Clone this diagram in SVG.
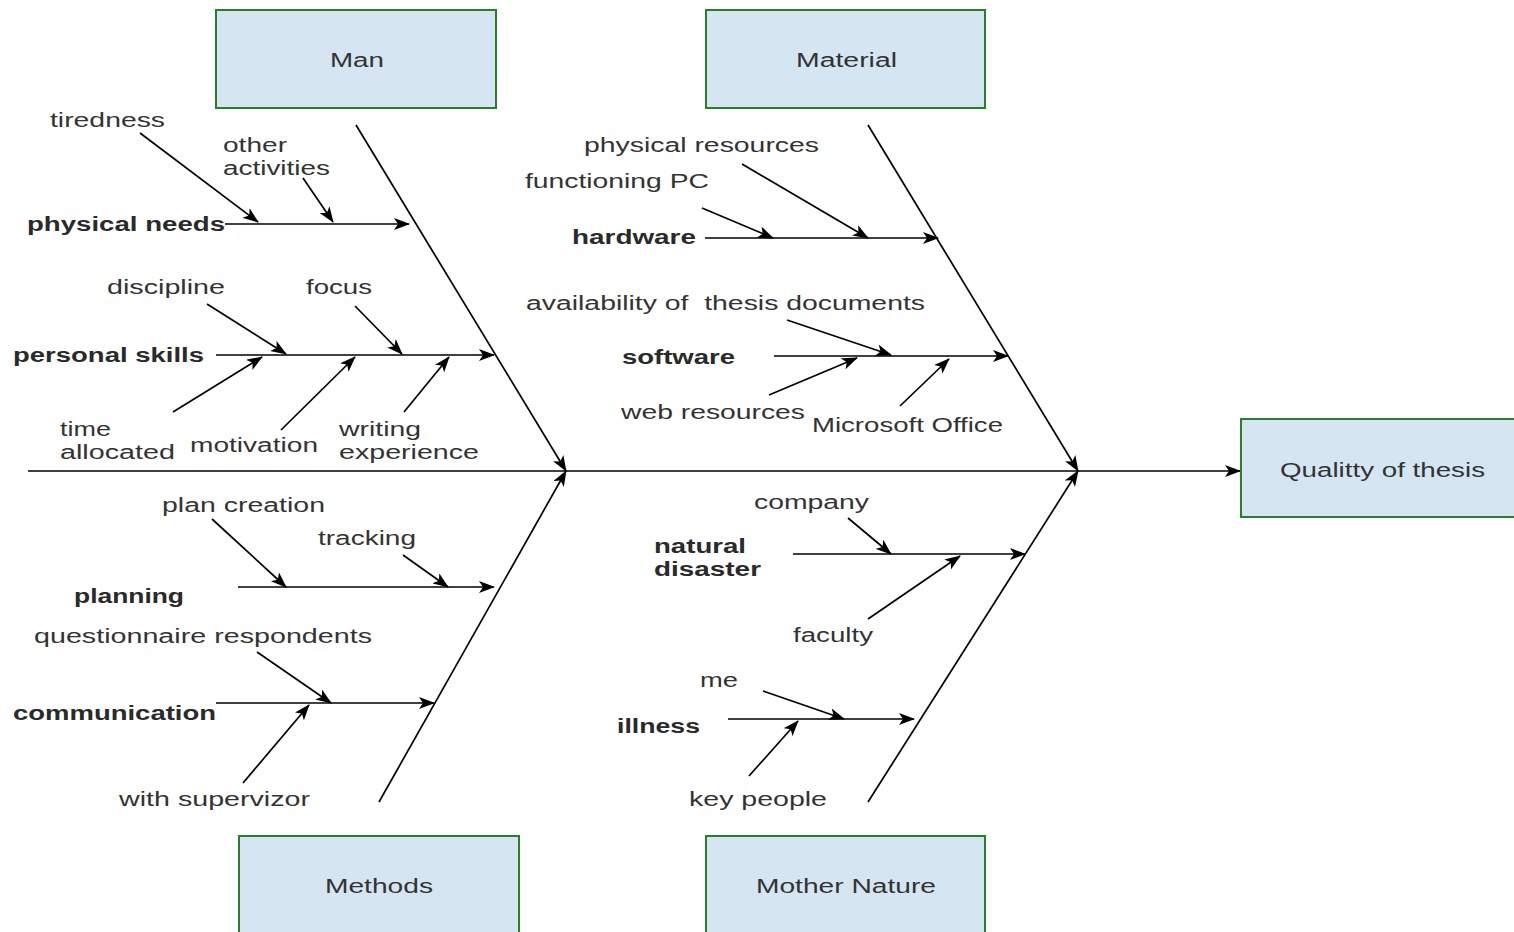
<svg xmlns="http://www.w3.org/2000/svg" width="1514" height="932" viewBox="0 0 1514 932">
<style>
.box{fill:#d5e6f2;stroke:#2a7d2a;stroke-width:2}
.ln{stroke:#000;stroke-width:1.7;fill:none;marker-end:url(#ah)}
.t{font-family:"Liberation Sans",Arial,sans-serif;font-size:20px;fill:#333}
.b{font-weight:bold;fill:#2a2a2a}
</style>
<defs>
<marker id="ah" viewBox="0 0 16 12" refX="15" refY="6" markerWidth="16" markerHeight="12" markerUnits="userSpaceOnUse" orient="auto">
<path d="M0,0 L16,6 L0,12 L4,6 z" fill="#000"/>
</marker>
</defs>
<rect width="1514" height="932" fill="#fff"/>
<g id="connectors">
<line class="ln" x1="28" y1="471" x2="1240" y2="471"/>
<line class="ln" x1="356" y1="125" x2="566" y2="471"/>
<line class="ln" x1="379" y1="802" x2="566" y2="471"/>
<line class="ln" x1="868" y1="125" x2="1078" y2="471"/>
<line class="ln" x1="868" y1="802" x2="1078" y2="471"/>
<line class="ln" x1="225" y1="224" x2="409" y2="224"/>
<line class="ln" x1="140" y1="133" x2="258" y2="222"/>
<line class="ln" x1="303" y1="178" x2="333" y2="222"/>
<line class="ln" x1="216" y1="355" x2="494" y2="355"/>
<line class="ln" x1="207" y1="304" x2="286" y2="354"/>
<line class="ln" x1="355" y1="306" x2="402" y2="354"/>
<line class="ln" x1="173" y1="412" x2="262" y2="357"/>
<line class="ln" x1="281" y1="430" x2="355" y2="357"/>
<line class="ln" x1="404" y1="412" x2="449" y2="357"/>
<line class="ln" x1="705" y1="238" x2="938" y2="238"/>
<line class="ln" x1="702" y1="208" x2="773" y2="238"/>
<line class="ln" x1="742" y1="164" x2="868" y2="238"/>
<line class="ln" x1="774" y1="356" x2="1008" y2="356"/>
<line class="ln" x1="787" y1="320" x2="891" y2="355"/>
<line class="ln" x1="769" y1="395" x2="857" y2="358"/>
<line class="ln" x1="900" y1="406" x2="949" y2="359"/>
<line class="ln" x1="238" y1="587" x2="494" y2="587"/>
<line class="ln" x1="212" y1="519" x2="286" y2="587"/>
<line class="ln" x1="403" y1="555" x2="448" y2="587"/>
<line class="ln" x1="216" y1="703" x2="434" y2="703"/>
<line class="ln" x1="257" y1="652" x2="331" y2="703"/>
<line class="ln" x1="243" y1="783" x2="309" y2="705"/>
<line class="ln" x1="793" y1="554" x2="1025" y2="554"/>
<line class="ln" x1="848" y1="518" x2="891" y2="554"/>
<line class="ln" x1="868" y1="619" x2="960" y2="556"/>
<line class="ln" x1="728" y1="719" x2="914" y2="719"/>
<line class="ln" x1="763" y1="691" x2="844" y2="719"/>
<line class="ln" x1="749" y1="776" x2="798" y2="721"/>
</g>
<g id="man"><rect class="box" x="216" y="10" width="280" height="98"/><text class="t" x="330" y="67" textLength="54" lengthAdjust="spacingAndGlyphs">Man</text></g>
<g id="material"><rect class="box" x="706" y="10" width="279" height="98"/><text class="t" x="796" y="67" textLength="101" lengthAdjust="spacingAndGlyphs">Material</text></g>
<g id="methods"><rect class="box" x="239" y="836" width="280" height="110"/><text class="t" x="325" y="893" textLength="108" lengthAdjust="spacingAndGlyphs">Methods</text></g>
<g id="mother-nature"><rect class="box" x="706" y="836" width="279" height="110"/><text class="t" x="756" y="893" textLength="180" lengthAdjust="spacingAndGlyphs">Mother Nature</text></g>
<g id="quality"><rect class="box" x="1241" y="419" width="290" height="98"/><text class="t" x="1280" y="477" textLength="205" lengthAdjust="spacingAndGlyphs">Qualitty of thesis</text></g>
<g id="labels">
<text class="t" x="50" y="127" textLength="115" lengthAdjust="spacingAndGlyphs">tiredness</text>
<text class="t" x="223" y="152" textLength="64" lengthAdjust="spacingAndGlyphs">other</text>
<text class="t" x="223" y="175" textLength="107" lengthAdjust="spacingAndGlyphs">activities</text>
<text class="t b" x="27" y="231" textLength="198" lengthAdjust="spacingAndGlyphs">physical needs</text>
<text class="t" x="107" y="294" textLength="118" lengthAdjust="spacingAndGlyphs">discipline</text>
<text class="t" x="306" y="294" textLength="66" lengthAdjust="spacingAndGlyphs">focus</text>
<text class="t b" x="13" y="362" textLength="191" lengthAdjust="spacingAndGlyphs">personal skills</text>
<text class="t" x="60" y="436" textLength="51" lengthAdjust="spacingAndGlyphs">time</text>
<text class="t" x="60" y="459" textLength="115" lengthAdjust="spacingAndGlyphs">allocated</text>
<text class="t" x="190" y="452" textLength="128" lengthAdjust="spacingAndGlyphs">motivation</text>
<text class="t" x="339" y="436" textLength="82" lengthAdjust="spacingAndGlyphs">writing</text>
<text class="t" x="339" y="459" textLength="140" lengthAdjust="spacingAndGlyphs">experience</text>
<text class="t" x="584" y="152" textLength="235" lengthAdjust="spacingAndGlyphs">physical resources</text>
<text class="t" x="525" y="188" textLength="184" lengthAdjust="spacingAndGlyphs">functioning PC</text>
<text class="t b" x="572" y="244" textLength="124" lengthAdjust="spacingAndGlyphs">hardware</text>
<text class="t" x="526" y="310" textLength="399" lengthAdjust="spacingAndGlyphs" xml:space="preserve">availability of  thesis documents</text>
<text class="t b" x="622" y="364" textLength="113" lengthAdjust="spacingAndGlyphs">software</text>
<text class="t" x="621" y="419" textLength="184" lengthAdjust="spacingAndGlyphs">web resources</text>
<text class="t" x="812" y="432" textLength="191" lengthAdjust="spacingAndGlyphs">Microsoft Office</text>
<text class="t" x="162" y="512" textLength="163" lengthAdjust="spacingAndGlyphs">plan creation</text>
<text class="t" x="318" y="545" textLength="98" lengthAdjust="spacingAndGlyphs">tracking</text>
<text class="t b" x="74" y="603" textLength="110" lengthAdjust="spacingAndGlyphs">planning</text>
<text class="t" x="34" y="643" textLength="338" lengthAdjust="spacingAndGlyphs">questionnaire respondents</text>
<text class="t b" x="13" y="720" textLength="203" lengthAdjust="spacingAndGlyphs">communication</text>
<text class="t" x="119" y="806" textLength="191" lengthAdjust="spacingAndGlyphs">with supervizor</text>
<text class="t" x="754" y="509" textLength="115" lengthAdjust="spacingAndGlyphs">company</text>
<text class="t b" x="654" y="553" textLength="92" lengthAdjust="spacingAndGlyphs">natural</text>
<text class="t b" x="654" y="576" textLength="107" lengthAdjust="spacingAndGlyphs">disaster</text>
<text class="t" x="793" y="642" textLength="80" lengthAdjust="spacingAndGlyphs">faculty</text>
<text class="t" x="700" y="687" textLength="38" lengthAdjust="spacingAndGlyphs">me</text>
<text class="t b" x="617" y="733" textLength="83" lengthAdjust="spacingAndGlyphs">illness</text>
<text class="t" x="689" y="806" textLength="138" lengthAdjust="spacingAndGlyphs">key people</text>
</g>
</svg>
